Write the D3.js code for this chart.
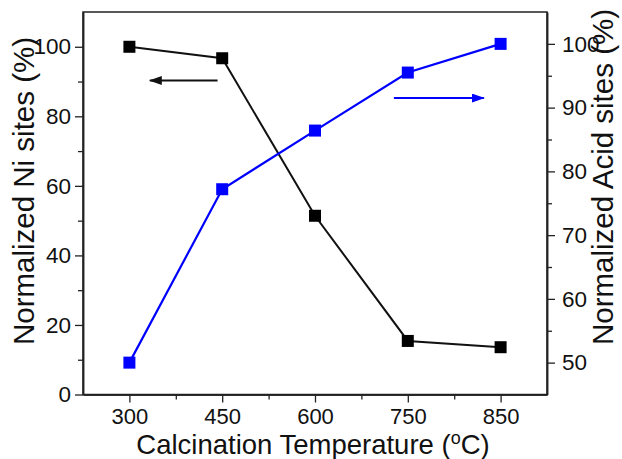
<!DOCTYPE html>
<html>
<head>
<meta charset="utf-8">
<script src="https://cdn.jsdelivr.net/npm/d3@7"></script>
<style>
  html, body { margin: 0; padding: 0; background: #fff; }
  svg { display: block; }
  text { font-family: "Liberation Sans", Arial, sans-serif; fill: #111; }
</style>
</head>
<body>
<svg id="chart" width="622" height="459"></svg>
<script>
const categories = ["300", "450", "600", "750", "850"];
const niSites = [100, 96.7, 51.4, 15.4, 13.6];
const acidSites = [50, 77.2, 86.4, 95.5, 100];
const leftTicks = [0, 20, 40, 60, 80, 100];
const rightTicks = [50, 60, 70, 80, 90, 100];

const svg = d3.select("#chart");
const L = 83, R = 547, T = 12, B = 394.5;

const x = d3.scaleLinear().domain([-0.5, 4.5]).range([L, R]);
const yL = d3.scaleLinear().domain([0, 110]).range([B, T]);
const yR = d3.scaleLinear().domain([45, 105]).range([B, T]);

const tickFont = 22.5, xTickFont = 22, titleFont = 27.5, vTitleFont = 29.5;

// frame
svg.append("rect").attr("x", L).attr("y", T).attr("width", R - L).attr("height", B - T)
  .attr("fill", "none").attr("stroke", "#222").attr("stroke-width", 1.5);

// left axis
svg.append("g").attr("transform", `translate(${L},0)`)
  .call(d3.axisLeft(yL).tickValues(leftTicks).tickSize(8).tickSizeOuter(0).tickPadding(4));
svg.append("g").attr("transform", `translate(${L},0)`)
  .call(d3.axisLeft(yL).tickValues([10, 30, 50, 70, 90]).tickSize(5).tickSizeOuter(0).tickFormat(""));

// right axis
svg.append("g").attr("transform", `translate(${R},0)`)
  .call(d3.axisRight(yR).tickValues(rightTicks).tickSize(8).tickSizeOuter(0).tickPadding(7));
svg.append("g").attr("transform", `translate(${R},0)`)
  .call(d3.axisRight(yR).tickValues([55, 65, 75, 85, 95]).tickSize(5).tickSizeOuter(0).tickFormat(""));

svg.selectAll(".tick text").style("font-size", tickFont + "px");

// x axis
const xAxis = d3.axisBottom(x).tickValues(d3.range(categories.length))
  .tickFormat(i => categories[i]).tickSize(8).tickSizeOuter(0).tickPadding(6);
const gx = svg.append("g").attr("transform", `translate(0,${B})`).call(xAxis);
gx.selectAll(".tick text").style("font-size", xTickFont + "px");
const xMinor = d3.axisBottom(x).tickValues([0.5, 1.5, 2.5, 3.5]).tickSize(5).tickSizeOuter(0).tickFormat("");
svg.append("g").attr("transform", `translate(0,${B})`).call(xMinor);

svg.selectAll(".domain").attr("stroke", "#222").attr("stroke-width", 1.5);
svg.selectAll(".tick line").attr("stroke", "#222").attr("stroke-width", 1.3);
svg.selectAll(".tick text").style("font-family", "'Liberation Sans', Arial, sans-serif").attr("fill", "#111");

// axis titles
svg.append("text").attr("x", (L + R) / 2 - 2).attr("y", 454).attr("text-anchor", "middle")
  .style("font-size", titleFont + "px")
  .html('Calcination Temperature (<tspan dy="-10" font-size="18">o</tspan><tspan dy="10">C)</tspan>');
svg.append("text").attr("transform", `translate(34,191) rotate(-90)`).attr("text-anchor", "middle")
  .style("font-size", vTitleFont + "px").text("Normalized Ni sites (%)");
svg.append("text").attr("transform", `translate(613,177) rotate(-90)`).attr("text-anchor", "middle")
  .style("font-size", vTitleFont + "px").text("Normalized Acid sites (%)");

// series
const line = (ys, vals) => d3.line().x((d, i) => x(i)).y(d => ys(d))(vals);
svg.append("path").attr("d", line(yL, niSites)).attr("fill", "none").attr("stroke", "#111").attr("stroke-width", 2);
svg.append("path").attr("d", line(yR, acidSites)).attr("fill", "none").attr("stroke", "#0000ff").attr("stroke-width", 2.2);

const ms = 12;
svg.selectAll(".ni").data(niSites).enter().append("rect")
  .attr("x", (d, i) => x(i) - ms / 2).attr("y", d => yL(d) - ms / 2)
  .attr("width", ms).attr("height", ms).attr("fill", "#000");
svg.selectAll(".acid").data(acidSites).enter().append("rect")
  .attr("x", (d, i) => x(i) - ms / 2).attr("y", d => yR(d) - ms / 2)
  .attr("width", ms).attr("height", ms).attr("fill", "#0000ff");

// arrows
const defs = svg.append("defs");
[["arrK", "#111"], ["arrB", "#0000ff"]].forEach(([id, c]) => {
  defs.append("marker").attr("id", id).attr("viewBox", "0 0 13 9").attr("refX", 12).attr("refY", 4.5)
    .attr("markerWidth", 13).attr("markerHeight", 9).attr("markerUnits", "userSpaceOnUse").attr("orient", "auto")
    .append("path").attr("d", "M0,0 L13,4.5 L0,9 Z").attr("fill", c);
});
svg.append("line").attr("x1", x(0.95)).attr("x2", x(0.22)).attr("y1", yL(90.3)).attr("y2", yL(90.3))
  .attr("stroke", "#111").attr("stroke-width", 2).attr("marker-end", "url(#arrK)");
svg.append("line").attr("x1", x(2.85)).attr("x2", x(3.82)).attr("y1", yR(91.5)).attr("y2", yR(91.5))
  .attr("stroke", "#0000ff").attr("stroke-width", 2).attr("marker-end", "url(#arrB)");
</script>
</body>
</html>
